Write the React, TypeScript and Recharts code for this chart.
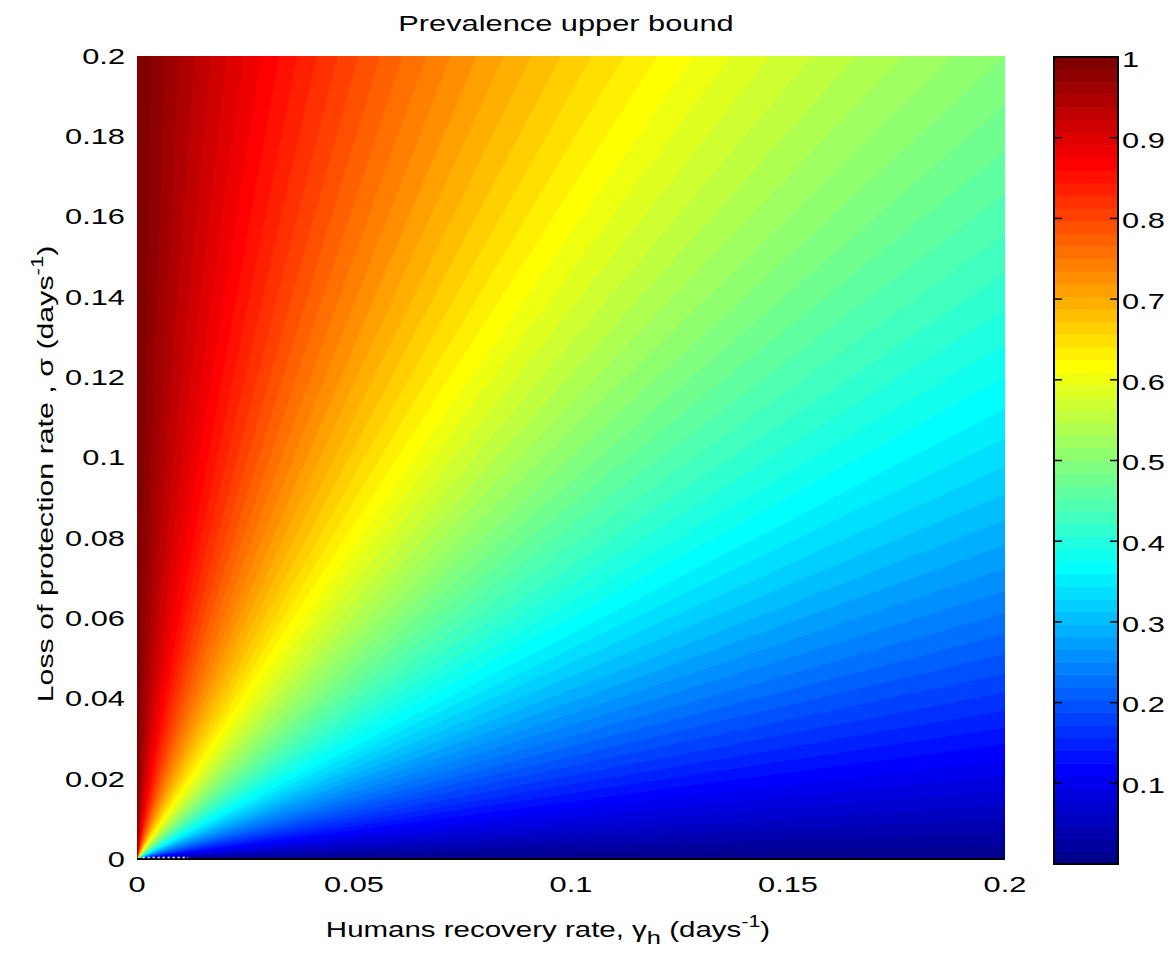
import React from 'react';
import { ComposedChart, XAxis, YAxis, Area, ReferenceArea, ReferenceLine } from 'recharts';

// Axis ticks
const xTicks = [0, 0.05, 0.1, 0.15, 0.2];
const yTicks = [0, 0.02, 0.04, 0.06, 0.08, 0.1, 0.12, 0.14, 0.16, 0.18, 0.2];
const colorbarTicks = [0.1, 0.2, 0.3, 0.4, 0.5, 0.6, 0.7, 0.8, 0.9, 1];

// Boundaries between the 64 colour levels of the prevalence map (all rays through the origin).
// Levels 63|62 ... 32|31 leave the plot through the top edge (sigma = 0.2): gamma where they cross it.
const topEdgeGamma = [0.0032, 0.0065, 0.0098, 0.0133, 0.0170, 0.0207, 0.0246, 0.0286, 0.0327, 0.0370, 0.0415, 0.0462, 0.0510, 0.0560, 0.0612, 0.0667, 0.0723, 0.0783, 0.0844, 0.0909, 0.0977, 0.1048, 0.1122, 0.1200, 0.1282, 0.1368, 0.1459, 0.1556, 0.1657, 0.1765, 0.1879, 0.2];
// Levels 0|1 ... 30|31 leave the plot through the right edge (gamma = 0.2): sigma where they cross it.
const rightEdgeSigma = [0.0032, 0.0065, 0.0098, 0.0133, 0.0170, 0.0207, 0.0246, 0.0286, 0.0327, 0.0370, 0.0415, 0.0462, 0.0510, 0.0560, 0.0612, 0.0667, 0.0723, 0.0783, 0.0844, 0.0909, 0.0977, 0.1048, 0.1122, 0.1200, 0.1282, 0.1368, 0.1459, 0.1556, 0.1657, 0.1765, 0.1879];

const X_MAX = 0.2;
const Y_MAX = 0.2;
const TOP = 100; // far above the plot; clipped away

// slope of the lower boundary of each colour level (level 0 starts at the x axis)
const slopes: number[] = [0];
rightEdgeSigma.forEach((s) => slopes.push(s / X_MAX));
for (let i = topEdgeGamma.length - 1; i >= 0; i--) slopes.push(Y_MAX / topEdgeGamma[i]);

const bandData = [0, X_MAX].map((x) => {
  const row: Record<string, any> = { x };
  slopes.forEach((m, k) => {
    row[`b${k}`] = [m * x, TOP];
  });
  return row;
});

const FONT = '"Liberation Sans", Arial, Helvetica, sans-serif';
const SX = 1.4;
const FS = 22;

// MATLAB "jet" colormap, 64 levels
function jetLevel(k: number): string {
  let r = 0, g = 0, b = 0;
  if (k < 8) {
    b = 0.5625 + k * 0.0625;
  } else if (k < 24) {
    g = (k - 7) / 16; b = 1;
  } else if (k < 40) {
    r = (k - 23) / 16; g = 1; b = 1 - (k - 23) / 16;
  } else if (k < 56) {
    r = 1; g = 1 - (k - 39) / 16;
  } else {
    r = 1 - (k - 55) / 16;
  }
  const c = (x: number) => Math.round(x * 255);
  return `rgb(${c(r)},${c(g)},${c(b)})`;
}

const YTick = (props: any) => {
  const { x, y, payload } = props;
  return (
    <g transform={`translate(${x},${y})`}>
      <text transform={`scale(${SX},1)`} textAnchor="end" dy="0.355em" fontSize={FS} fontFamily={FONT} fill="#000">
        {String(payload.value)}
      </text>
    </g>
  );
};

const XTick = (props: any) => {
  const { x, y, payload } = props;
  return (
    <g transform={`translate(${x},${y})`}>
      <text transform={`scale(${SX},1)`} textAnchor="middle" dy="0.71em" fontSize={FS} fontFamily={FONT} fill="#000">
        {String(payload.value)}
      </text>
    </g>
  );
};

const CTick = (props: any) => {
  const { x, y, payload } = props;
  return (
    <g transform={`translate(${x},${y + 2})`}>
      <text transform={`scale(${SX},1)`} textAnchor="start" dy="0.355em" fontSize={FS} fontFamily={FONT} fill="#000">
        {String(payload.value)}
      </text>
    </g>
  );
};

export default function App() {
  return (
    <div style={{ position: 'absolute', left: 0, top: 0, width: 1171, height: 964, background: '#fff' }}>
      <div style={{ position: 'absolute', left: 0, top: 0 }}>
        <ComposedChart width={1171} height={964} data={bandData} margin={{ top: 56, right: 166, bottom: 75, left: 0 }}>
          <XAxis
            type="number"
            dataKey="x"
            domain={[0, X_MAX]}
            ticks={xTicks}
            interval={0}
            allowDataOverflow
            axisLine={false}
            tickLine={false}
            tickSize={0}
            tickMargin={17}
            height={30}
            tick={XTick}
          />
          <YAxis
            type="number"
            domain={[0, Y_MAX]}
            ticks={yTicks}
            interval={0}
            allowDataOverflow
            axisLine={false}
            tickLine={false}
            tickSize={0}
            tickMargin={12}
            width={137}
            tick={YTick}
          />
          {slopes.map((_, k) => (
            <Area
              key={`band-${k}`}
              type="linear"
              dataKey={`b${k}`}
              fill={jetLevel(k)}
              fillOpacity={1}
              stroke="none"
              dot={false}
              activeDot={false}
              isAnimationActive={false}
            />
          ))}
          <ReferenceLine y={0} stroke="#000" strokeWidth={2} ifOverflow="visible" />
          <ReferenceLine
            segment={[{ x: 0.0013, y: 0.0004 }, { x: 0.0118, y: 0.0004 }]}
            stroke="#fff"
            strokeWidth={1.5}
            strokeDasharray="2 3"
            ifOverflow="visible"
          />
        </ComposedChart>
      </div>
      <div style={{ position: 'absolute', left: 1000, top: 0 }}>
        <ComposedChart width={171} height={964} margin={{ top: 57, right: 0, bottom: 100, left: 54 }}>
          <XAxis type="number" dataKey="x" domain={[0, 1]} hide allowDataOverflow />
          <YAxis
            yAxisId="r"
            orientation="right"
            type="number"
            domain={[0, 1]}
            ticks={colorbarTicks}
            interval={0}
            allowDataOverflow
            axisLine={false}
            tickLine={false}
            tickSize={0}
            tickMargin={4}
            width={53}
            tick={CTick}
          />
          {slopes.map((_, k) => {
            const col = jetLevel(k);
            return (
              <ReferenceArea
                key={`lvl-${k}`}
                yAxisId="r"
                x1={0}
                x2={1}
                y1={k / 64}
                y2={(k + 1) / 64}
                fill={col}
                fillOpacity={1}
                stroke={col}
                strokeWidth={0.8}
                ifOverflow="visible"
              />
            );
          })}
          {colorbarTicks.map((t) => (
            <ReferenceLine
              key={`tl-${t}`}
              yAxisId="r"
              segment={[{ x: 0, y: t }, { x: 0.125, y: t }]}
              stroke="#000"
              strokeWidth={1.5}
              ifOverflow="visible"
            />
          ))}
          {colorbarTicks.map((t) => (
            <ReferenceLine
              key={`tr-${t}`}
              yAxisId="r"
              segment={[{ x: 0.875, y: t }, { x: 1, y: t }]}
              stroke="#000"
              strokeWidth={1.5}
              ifOverflow="visible"
            />
          ))}
          <ReferenceArea yAxisId="r" x1={0} x2={1} y1={0} y2={1} fill="none" fillOpacity={0} stroke="#000" strokeWidth={2} ifOverflow="visible" />
        </ComposedChart>
      </div>
      <svg width={1171} height={964} style={{ position: 'absolute', left: 0, top: 0, pointerEvents: 'none' }}>
        <g transform="translate(566,31) scale(1.4,1)">
          <text textAnchor="middle" fontSize={FS} fontFamily={FONT} fill="#000">Prevalence upper bound</text>
        </g>
        <g transform="translate(548,937) scale(1.34,1)">
          <text textAnchor="middle" fontSize={FS} fontFamily={FONT} fill="#000">
            Humans recovery rate, γ<tspan dy={7} fontSize={19}>h</tspan>
            <tspan dy={-7}> (days</tspan>
            <tspan dy={-10} fontSize={16}>-1</tspan>
            <tspan dy={10}>)</tspan>
          </text>
        </g>
        <g transform="translate(53,474) rotate(-90) scale(1.38,1)">
          <text textAnchor="middle" fontSize={FS} fontFamily={FONT} fill="#000">
            Loss of protection rate , σ (days<tspan dy={-10} fontSize={16}>-1</tspan>
            <tspan dy={10}>)</tspan>
          </text>
        </g>
      </svg>
    </div>
  );
}
